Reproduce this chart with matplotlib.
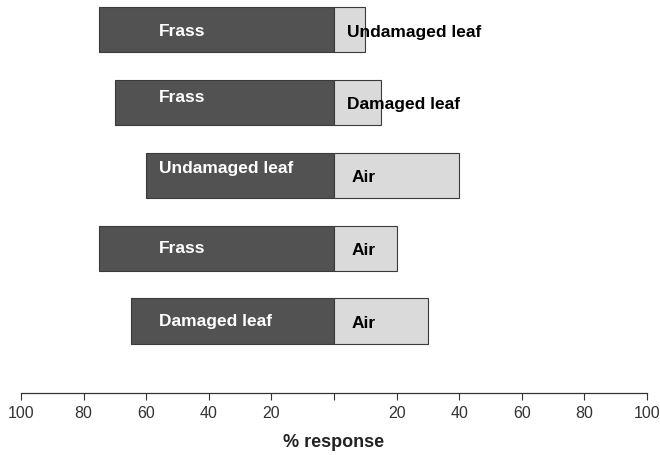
import matplotlib
matplotlib.use("Agg")
import matplotlib.pyplot as plt

# Data (percent response)
left_labels = ["Frass", "Frass", "Undamaged leaf", "Frass", "Damaged leaf"]
right_labels = ["Undamaged leaf", "Damaged leaf", "Air", "Air", "Air"]
left_values = [75, 70, 60, 75, 65]
right_values = [10, 15, 40, 20, 30]
tick_values = [-100, -80, -60, -40, -20, 0, 20, 40, 60, 80, 100]
tick_labels = ["100", "80", "60", "40", "20", "", "20", "40", "60", "80", "100"]

plt.rcParams['font.family'] = ['Liberation Sans', 'DejaVu Sans']

fig = plt.figure(figsize=(6.6, 4.55), dpi=100)
ax = fig.add_axes([21 / 660, 1 - 393 / 455, 626 / 660, 393 / 455])

n = len(left_values)
ys = list(range(n))
dark = "#525252"
light = "#dadada"

ax.barh(ys, [-v for v in left_values], height=0.62, color=dark,
        edgecolor="#3a3a3a", linewidth=0.8)
ax.barh(ys, right_values, height=0.62, color=light,
        edgecolor="#3a3a3a", linewidth=0.8)

label_dy = [0.02, -0.07, -0.09, 0.0, 0.01]
for i in range(n):
    ax.text(-56, ys[i] + label_dy[i], left_labels[i], color="white",
            fontsize=12.5, fontweight="bold", ha="left", va="center")
    ax.text(4 if right_labels[i] != "Air" else 5.5, ys[i] + 0.03,
            right_labels[i], color="black", fontsize=12.5,
            fontweight="bold", ha="left", va="center")

ax.set_xlim(-100, 100)
ax.set_ylim(4.99, -0.41)
ax.set_yticks([])
ax.set_xticks(tick_values)
ax.set_xticklabels(tick_labels, fontsize=11.5, color="#333333")
ax.tick_params(axis="x", direction="out", length=5, width=0.8,
               color="#333333", pad=4)
for s in ["top", "left", "right"]:
    ax.spines[s].set_visible(False)
ax.spines["bottom"].set_linewidth(0.9)
ax.spines["bottom"].set_color("#333333")
ax.set_xlabel("% response", fontsize=13, fontweight="bold", labelpad=10,
              color="#222222")

fig.savefig("out.png", dpi=100)
